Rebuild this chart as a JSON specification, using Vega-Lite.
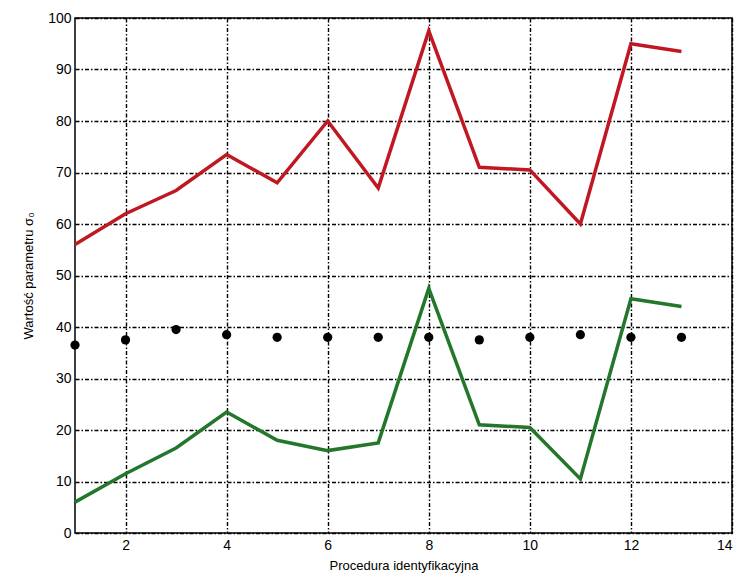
{
  "$schema": "https://vega.github.io/schema/vega-lite/v6.json",
  "width": 657,
  "height": 515,
  "autosize": {"type": "none"},
  "padding": {"left": 75, "top": 18, "right": 8, "bottom": 47},
  "background": "white",
  "config": {
    "view": {"stroke": "black", "strokeWidth": 1.5},
    "axis": {"labelFont": "Liberation Sans", "titleFont": "Liberation Sans", "labelFontSize": 14, "titleFontSize": 13, "titleFontWeight": "normal", "labelColor": "black", "titleColor": "black", "domain": false, "ticks": false, "grid": true, "gridColor": "black", "gridOpacity": 1, "gridDash": [4, 2, 1.5, 2], "gridWidth": 1.4}
  },
  "data": {"values": [
    {"x": 1, "s": "red", "y": 56}, {"x": 2, "s": "red", "y": 62}, {"x": 3, "s": "red", "y": 66.5}, {"x": 4, "s": "red", "y": 73.5}, {"x": 5, "s": "red", "y": 68}, {"x": 6, "s": "red", "y": 80}, {"x": 7, "s": "red", "y": 67}, {"x": 8, "s": "red", "y": 97.5}, {"x": 9, "s": "red", "y": 71}, {"x": 10, "s": "red", "y": 70.5}, {"x": 11, "s": "red", "y": 60}, {"x": 12, "s": "red", "y": 95}, {"x": 13, "s": "red", "y": 93.5},
    {"x": 1, "s": "green", "y": 6}, {"x": 2, "s": "green", "y": 11.5}, {"x": 3, "s": "green", "y": 16.5}, {"x": 4, "s": "green", "y": 23.5}, {"x": 5, "s": "green", "y": 18}, {"x": 6, "s": "green", "y": 16}, {"x": 7, "s": "green", "y": 17.5}, {"x": 8, "s": "green", "y": 47.5}, {"x": 9, "s": "green", "y": 21}, {"x": 10, "s": "green", "y": 20.5}, {"x": 11, "s": "green", "y": 10.5}, {"x": 12, "s": "green", "y": 45.5}, {"x": 13, "s": "green", "y": 44},
    {"x": 1, "s": "dots", "y": 36.5}, {"x": 2, "s": "dots", "y": 37.5}, {"x": 3, "s": "dots", "y": 39.5}, {"x": 4, "s": "dots", "y": 38.5}, {"x": 5, "s": "dots", "y": 38}, {"x": 6, "s": "dots", "y": 38}, {"x": 7, "s": "dots", "y": 38}, {"x": 8, "s": "dots", "y": 38}, {"x": 9, "s": "dots", "y": 37.5}, {"x": 10, "s": "dots", "y": 38}, {"x": 11, "s": "dots", "y": 38.5}, {"x": 12, "s": "dots", "y": 38}, {"x": 13, "s": "dots", "y": 38}
  ]},
  "encoding": {
    "x": {"field": "x", "type": "quantitative", "scale": {"domain": [1, 14], "nice": false, "zero": false}, "axis": {"values": [2, 4, 6, 8, 10, 12, 14], "title": "Procedura identyfikacyjna", "titlePadding": 7, "labelPadding": 5}},
    "y": {"field": "y", "type": "quantitative", "scale": {"domain": [0, 100], "nice": false}, "axis": {"values": [0, 10, 20, 30, 40, 50, 60, 70, 80, 90, 100], "title": "Wartość parametru σ₀", "titlePadding": 12, "labelPadding": 4}}
  },
  "layer": [
    {"transform": [{"filter": "datum.s == 'red'"}], "mark": {"type": "line", "color": "#c01822", "strokeWidth": 3.5}},
    {"transform": [{"filter": "datum.s == 'green'"}], "mark": {"type": "line", "color": "#23772a", "strokeWidth": 3.5}},
    {"transform": [{"filter": "datum.s == 'dots'"}], "mark": {"type": "point", "shape": "circle", "filled": true, "color": "black", "opacity": 1, "size": 85}}
  ]
}
